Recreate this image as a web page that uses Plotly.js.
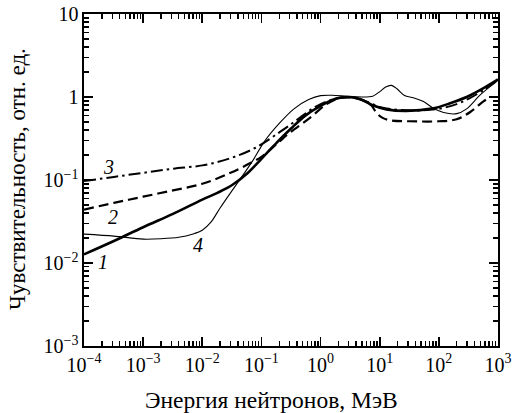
<!DOCTYPE html>
<html>
<head>
<meta charset="utf-8">
<script src="https://cdn.plot.ly/plotly-3.0.1.min.js"></script>
<style>html,body{margin:0;padding:0;background:#fff;}#chart{width:516px;height:413px;}</style>
</head>
<body>
<div id="chart"></div>
<script>
// Energy (MeV) and sensitivity (rel. units) for each curve
const energy1 = [1e-4, 3.2e-4, 1e-3, 3.2e-3, 0.01, 0.018, 0.032, 0.056, 0.1, 0.18, 0.32, 0.56, 1, 1.8, 2.8, 4.7, 7.8, 13, 28, 81, 155, 295, 560, 1000];
const sens1   = [0.0127, 0.0184, 0.027, 0.039, 0.058, 0.070, 0.087, 0.118, 0.18, 0.28, 0.42, 0.60, 0.78, 0.95, 1.0, 0.94, 0.79, 0.71, 0.68, 0.73, 0.84, 1.0, 1.27, 1.63];

const energy2 = [1e-4, 3.2e-4, 1e-3, 3.2e-3, 0.01, 0.03, 0.065, 0.1, 0.2, 0.3, 0.66, 1.26, 2, 3.16, 5, 7.1, 8.9, 11.2, 15.8, 32, 100, 200, 340, 560, 630];
const sens2   = [0.044, 0.053, 0.063, 0.075, 0.09, 0.122, 0.16, 0.19, 0.29, 0.37, 0.56, 0.82, 0.96, 0.99, 0.92, 0.80, 0.64, 0.56, 0.52, 0.51, 0.51, 0.54, 0.66, 0.88, 0.93];

const energy3 = [1e-4, 3.2e-4, 1e-3, 3.2e-3, 0.01, 0.03, 0.078, 0.206, 0.4, 0.74, 1.26, 2, 3.16, 5, 10, 20, 50, 100, 200, 316, 560, 1000];
const sens3   = [0.097, 0.109, 0.122, 0.137, 0.15, 0.183, 0.243, 0.38, 0.53, 0.73, 0.88, 0.97, 1.0, 0.93, 0.76, 0.70, 0.69, 0.72, 0.82, 0.95, 1.2, 1.6];

const energy4 = [1e-4, 3.2e-4, 1e-3, 2e-3, 4e-3, 7e-3, 0.01, 0.014, 0.02, 0.03, 0.044, 0.071, 0.112, 0.2, 0.355, 0.63, 1, 1.58, 2.8, 5, 7.6, 10, 12.6, 15.8, 20, 26.3, 37, 55, 81, 120, 200, 295, 500, 1000];
const sens4   = [0.0223, 0.0211, 0.0194, 0.0196, 0.0204, 0.0224, 0.0248, 0.031, 0.046, 0.07, 0.103, 0.17, 0.29, 0.48, 0.72, 0.93, 1.04, 1.05, 1.02, 1.0, 1.02, 1.16, 1.32, 1.38, 1.24, 1.04, 0.98, 0.88, 0.73, 0.65, 0.63, 0.72, 1.06, 1.6];

// curve number labels and where they sit (log10 energy, log10 sensitivity)
const curveLabels = ['1', '2', '3', '4'];
const labelLogE = [-3.68, -3.51, -3.58, -2.07];
const labelLogS = [-1.988, -1.446, -0.843, -1.783];

const xTickVals = [1e-4, 1e-3, 1e-2, 1e-1, 1, 10, 100, 1000];
const xTickText = ['10<sup>−4</sup>', '10<sup>−3</sup>', '10<sup>−2</sup>', '10<sup>−1</sup>', '10<sup>0</sup>', '10<sup>1</sup>', '10<sup>2</sup>', '10<sup>3</sup>'];
const yTickVals = [1e-3, 1e-2, 1e-1, 1, 10];
const yTickText = ['10<sup>−3</sup>', '10<sup>−2</sup>', '10<sup>−1</sup>', '1', '10'];

const xTitle = 'Энергия нейтронов, МэВ';
const yTitle = 'Чувствительность, отн. ед.';

function minorVals(lo, hi) {
  const out = [];
  for (let k = lo; k < hi; k++) for (let d = 2; d <= 9; d++) out.push(d * Math.pow(10, k));
  return out;
}

const font = 'Liberation Serif';
const W = 516, H = 413, M = {l: 84, r: 18, t: 14, b: 67};

const traces = [
  {x: energy1, y: sens1, mode: 'lines', line: {color: 'black', width: 2.6, shape: 'spline', smoothing: 1}, name: '1'},
  {x: energy2, y: sens2, mode: 'lines', line: {color: 'black', width: 2.2, dash: '10px,5px', shape: 'spline', smoothing: 1}, name: '2'},
  {x: energy3, y: sens3, mode: 'lines', line: {color: 'black', width: 2.0, dash: '12px,4px,2.5px,4px', shape: 'spline', smoothing: 1}, name: '3'},
  {x: energy4, y: sens4, mode: 'lines', line: {color: 'black', width: 1.1, shape: 'spline', smoothing: 0.8}, name: '4'}
];

const annotations = curveLabels.map((t, i) => ({
  x: labelLogE[i], y: labelLogS[i], xref: 'x', yref: 'y', text: '<i>' + t + '</i>',
  showarrow: false, font: {family: font, size: 20, color: 'black'}
}));
function px2paper(px, py) {
  return {x: (px - M.l) / (W - M.l - M.r), y: (H - M.b - py) / (H - M.t - M.b)};
}
const xtPos = px2paper(271, 400);
annotations.push({x: xtPos.x, y: xtPos.y, xref: 'paper', yref: 'paper', xanchor: 'center', yanchor: 'middle',
  text: xTitle, showarrow: false, font: {family: font, size: 23.5, color: 'black'}});
const ytPos = px2paper(17, 179);
annotations.push({x: ytPos.x, y: ytPos.y, xref: 'paper', yref: 'paper', xanchor: 'center', yanchor: 'middle', textangle: -90,
  text: yTitle, showarrow: false, font: {family: font, size: 23, color: 'black'}});

const axisCommon = {
  type: 'log', showgrid: false, zeroline: false, showline: true, linecolor: 'black', linewidth: 1.6,
  mirror: 'ticks', ticks: 'inside', ticklen: 9, tickwidth: 1.8, tickcolor: 'black',
  tickmode: 'array', tickfont: {family: font, size: 20, color: 'black'}
};
const minorCommon = {tickmode: 'array', ticks: 'inside', ticklen: 5, tickwidth: 1.4, tickcolor: 'black', showgrid: false};

const layout = {
  width: W, height: H,
  margin: M,
  paper_bgcolor: 'white', plot_bgcolor: 'white',
  showlegend: false,
  xaxis: Object.assign({}, axisCommon, {
    range: [-4, 3], tickvals: xTickVals, ticktext: xTickText,
    minor: Object.assign({}, minorCommon, {tickvals: minorVals(-4, 3)})
  }),
  yaxis: Object.assign({}, axisCommon, {
    range: [-3, 1], tickvals: yTickVals, ticktext: yTickText,
    minor: Object.assign({}, minorCommon, {tickvals: minorVals(-3, 1)})
  }),
  annotations: annotations
};

Plotly.newPlot('chart', traces, layout, {staticPlot: true, displayModeBar: false});
</script>
</body>
</html>
